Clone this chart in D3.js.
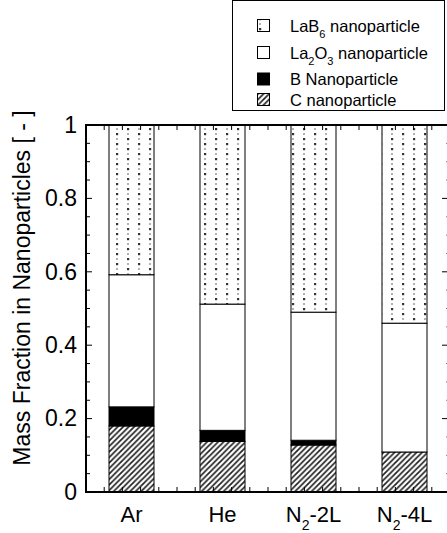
<!DOCTYPE html>
<html><head><meta charset="utf-8">
<script src="https://cdn.jsdelivr.net/npm/d3@7"></script>
<style>body{margin:0;background:#fff}svg{display:block;font-family:"Liberation Sans",Arial,sans-serif}</style>
</head><body>
<svg id="c" width="447" height="533"></svg>
<script>
const categories = ["Ar", "He", "N2-2L", "N2-4L"];
const cNano = [0.180, 0.138, 0.128, 0.109];
const bNano = [0.052, 0.030, 0.013, 0.000];
const la2o3Nano = [0.360, 0.344, 0.349, 0.351];
const lab6Nano = [0.408, 0.488, 0.510, 0.540];
const yTicks = [0, 0.2, 0.4, 0.6, 0.8, 1];
const yTickLabels = ["0", "0.2", "0.4", "0.6", "0.8", "1"];

const svg = d3.select("#c");
const L = 86, R = 450, T = 125, B = 492;
const x = d3.scalePoint().domain(categories).range([L, R]).padding(0.5);
const xl = d3.scaleLinear().domain([-0.5, 3.5]).range([L, R]);
const y = d3.scaleLinear().domain([0, 1]).range([B, T]);
const bw = 45;

const defs = svg.append("defs");
const dots = defs.append("pattern").attr("id", "dots").attr("patternUnits", "userSpaceOnUse")
  .attr("width", 22).attr("height", 10).attr("x", 2).attr("y", 1);
dots.append("rect").attr("width", 22).attr("height", 10).attr("fill", "#fff");
dots.append("rect").attr("x", 4).attr("y", 2).attr("width", 2.2).attr("height", 2.2).attr("fill", "#333");
dots.append("rect").attr("x", 15).attr("y", 7).attr("width", 2.2).attr("height", 2.2).attr("fill", "#333");
dots.append("rect").attr("x", 4).attr("y", 7.5).attr("width", 2).attr("height", 1).attr("fill", "#666");
dots.append("rect").attr("x", 15).attr("y", 2.5).attr("width", 2).attr("height", 1).attr("fill", "#666");
const hatch = defs.append("pattern").attr("id", "hatch").attr("patternUnits", "userSpaceOnUse")
  .attr("width", 5.5).attr("height", 5.5);
hatch.append("rect").attr("width", 5.5).attr("height", 5.5).attr("fill", "#fff");
hatch.append("path").attr("d", "M-1.375,1.375 L1.375,-1.375 M0,5.5 L5.5,0 M4.125,6.875 L6.875,4.125")
  .attr("stroke", "#222").attr("stroke-width", 1.7);

const series = [
  {name: "C", vals: cNano, fill: "url(#hatch)"},
  {name: "B", vals: bNano, fill: "#000"},
  {name: "La2O3", vals: la2o3Nano, fill: "#fff"},
  {name: "LaB6", vals: lab6Nano, fill: "url(#dots)"}
];

categories.forEach((c, i) => {
  let base = 0;
  series.forEach(s => {
    const v = s.vals[i];
    if (v > 0) {
      svg.append("rect")
        .attr("x", x(c) - bw / 2).attr("width", bw)
        .attr("y", y(base + v)).attr("height", y(base) - y(base + v))
        .attr("fill", s.fill).attr("stroke", "#000").attr("stroke-width", 1);
    }
    base += v;
  });
});

// axes
const major = 6, minor = 4;
const yMinor = d3.range(0, 1.0001, 0.05);
const yAxisL = d3.axisLeft(y).tickValues(yTicks).tickFormat((d, i) => yTickLabels[i]).tickSize(0).tickPadding(9);
const gl = svg.append("g").attr("transform", `translate(${L},0)`).call(yAxisL);
gl.select(".domain").remove();
gl.selectAll("text").attr("font-size", 23).attr("fill", "#000").attr("font-family", "Liberation Sans, Arial, sans-serif");
svg.append("g").selectAll("line").data(yMinor).join("line")
  .attr("x1", L).attr("x2", d => L + (Math.round(d * 20) % 4 === 0 ? major : minor))
  .attr("y1", d => y(d)).attr("y2", d => y(d)).attr("stroke", "#000").attr("stroke-width", 1);
svg.append("g").selectAll("line").data(yMinor).join("line")
  .attr("x1", R).attr("x2", d => R - (Math.round(d * 20) % 4 === 0 ? 8 : 3.5))
  .attr("y1", d => y(d)).attr("y2", d => y(d)).attr("stroke", "#000").attr("stroke-width", 1);

const xMinor = d3.range(-0.5, 3.5001, 0.2);
svg.append("g").selectAll("line").data(xMinor).join("line")
  .attr("x1", d => xl(d)).attr("x2", d => xl(d)).attr("y1", B).attr("y2", B - 5)
  .attr("stroke", "#000").attr("stroke-width", 1);
svg.append("g").selectAll("line").data(xMinor).join("line")
  .attr("x1", d => xl(d)).attr("x2", d => xl(d)).attr("y1", T).attr("y2", T + 5)
  .attr("stroke", "#000").attr("stroke-width", 1);

// frame
svg.append("line").attr("x1", L).attr("x2", L).attr("y1", T - 1).attr("y2", B + 1).attr("stroke", "#000").attr("stroke-width", 2);
svg.append("line").attr("x1", L - 1).attr("x2", R).attr("y1", B).attr("y2", B).attr("stroke", "#000").attr("stroke-width", 2);
svg.append("line").attr("x1", L - 1).attr("x2", R).attr("y1", T).attr("y2", T).attr("stroke", "#000").attr("stroke-width", 2);
svg.append("line").attr("x1", R).attr("x2", R).attr("y1", T).attr("y2", B).attr("stroke", "#000").attr("stroke-width", 2);

// x labels
categories.forEach(c => {
  const t = svg.append("text").attr("x", x(c)).attr("y", 522).attr("text-anchor", "middle")
    .attr("font-size", 22).attr("fill", "#000");
  const m = c.match(/^N2(.*)$/);
  if (m) {
    t.append("tspan").text("N");
    t.append("tspan").attr("font-size", 14).attr("dy", 8).text("2");
    t.append("tspan").attr("dy", -8).text(m[1]);
  } else t.text(c);
});

// y title
svg.append("text").attr("transform", "translate(30,288) rotate(-90)").attr("text-anchor", "middle")
  .attr("font-size", 23).attr("fill", "#000").text("Mass Fraction in Nanoparticles [ - ]");

// legend
svg.append("rect").attr("x", 232.5).attr("y", 0.5).attr("width", 212).attr("height", 110)
  .attr("fill", "#fff").attr("stroke", "#000").attr("stroke-width", 1);
const legendItems = [
  {parts: [["LaB", 0], ["6", 1], [" nanoparticle", 0]], fill: "url(#dots)", cy: 25.5},
  {parts: [["La", 0], ["2", 1], ["O", 0], ["3", 1], [" nanoparticle", 0]], fill: "#fff", cy: 52.5},
  {parts: [["B Nanoparticle", 0]], fill: "#000", cy: 79},
  {parts: [["C nanoparticle", 0]], fill: "url(#hatch)", cy: 99.5}
];
legendItems.forEach(it => {
  svg.append("rect").attr("x", 257.5).attr("y", it.cy - 6).attr("width", 12).attr("height", 12)
    .attr("fill", it.fill).attr("stroke", "#000").attr("stroke-width", 1);
  const t = svg.append("text").attr("x", 290).attr("y", it.cy + 6).attr("font-size", 16.5).attr("fill", "#000");
  let prevSub = 0;
  it.parts.forEach(([s, sub]) => {
    const ts = t.append("tspan").text(s);
    const dy = (sub ? 6 : 0) - (prevSub ? 6 : 0);
    if (dy) ts.attr("dy", dy);
    if (sub) ts.attr("font-size", 11);
    prevSub = sub;
  });
});
</script>
</body></html>
